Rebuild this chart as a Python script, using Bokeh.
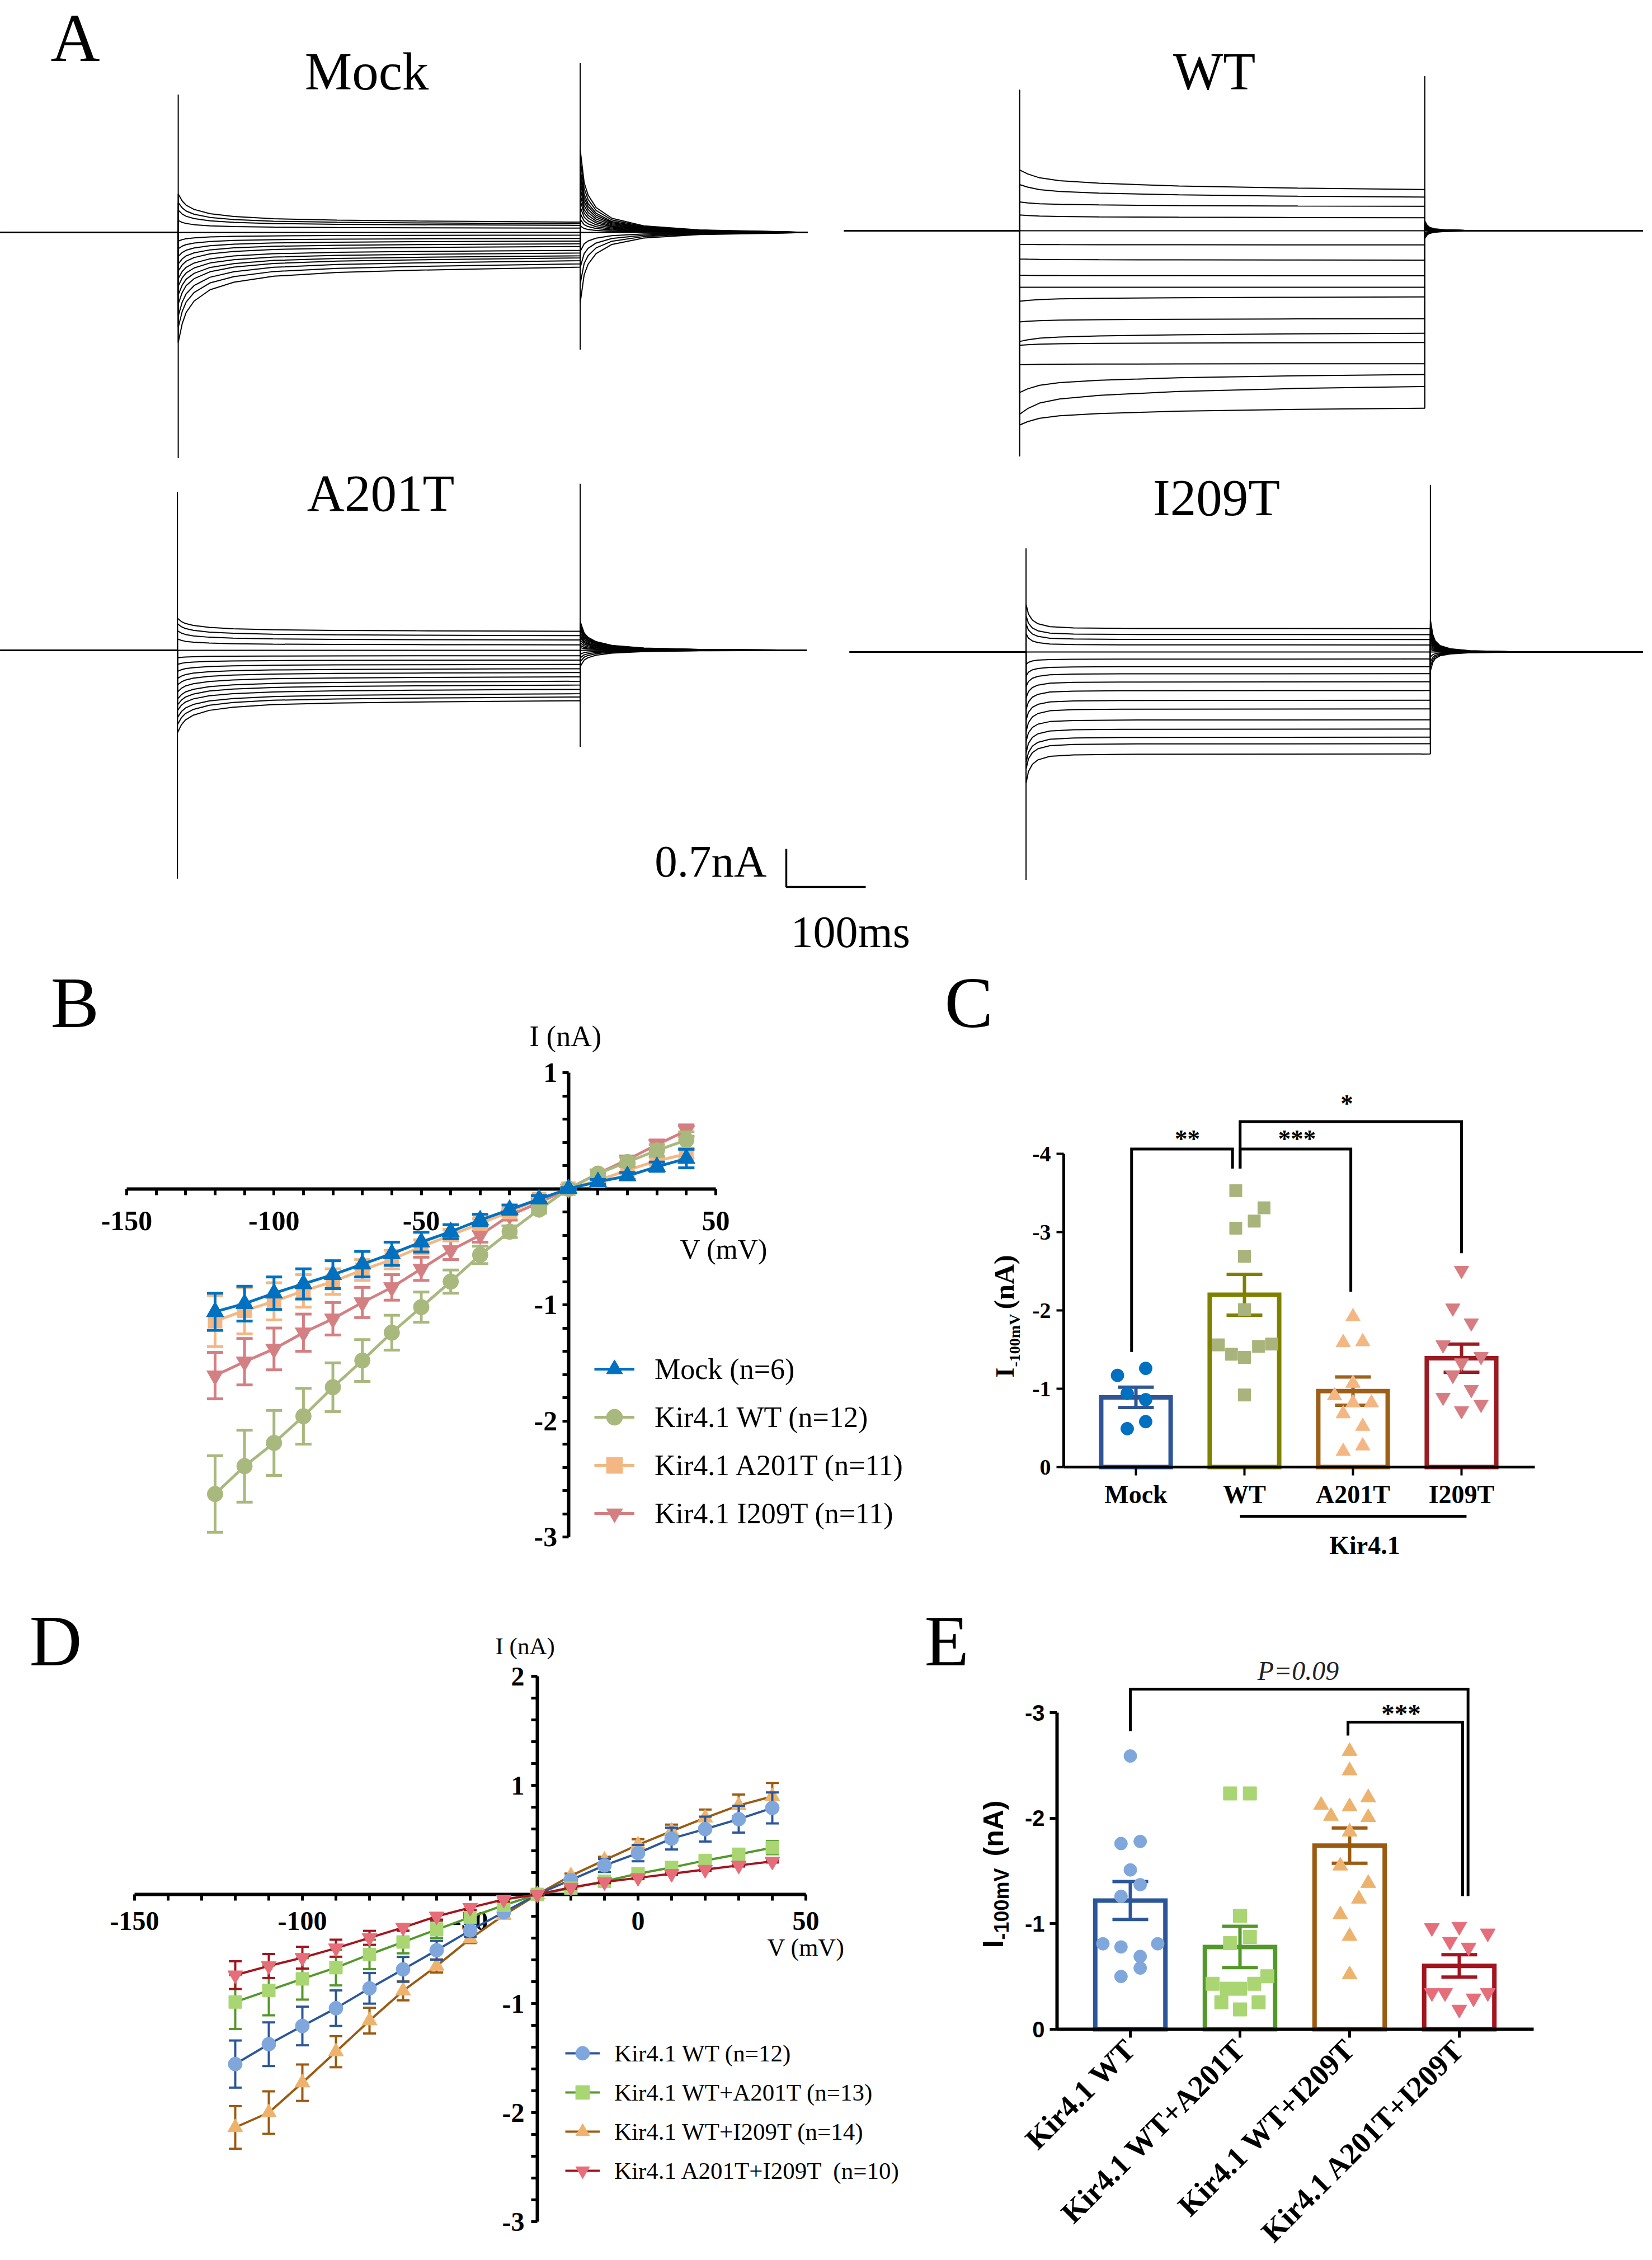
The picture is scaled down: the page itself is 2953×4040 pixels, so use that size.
import math
from bokeh.plotting import figure
from bokeh.models import Range1d, LinearAxis, FixedTicker, Label, Legend, LegendItem
from bokeh.layouts import column, row
from bokeh.embed import file_html
from bokeh.resources import INLINE

SERIF = "Liberation Serif"
SANS = "Liberation Sans"

# ======================= DATA =======================
# ---- Panel A: whole-cell current families (nA), 17 sweeps, +40 mV (first) ... -120 mV (last)
MOCK_START = [0.71, 0.55, 0.41, 0.22, 0.0, -0.16, -0.30, -0.44, -0.58, -0.71, -0.85, -0.99, -1.15, -1.32, -1.54, -1.75, -2.03]
MOCK_END = [0.19, 0.16, 0.13, 0.08, 0.0, -0.05, -0.11, -0.16, -0.21, -0.26, -0.33, -0.38, -0.43, -0.47, -0.52, -0.58, -0.64]
MOCK_TAIL = [-1.30, -0.95, -0.65, -0.35, 0.0, 0.12, 0.24, 0.35, 0.47, 0.59, 0.70, 0.82, 0.94, 1.06, 1.18, 1.35, 1.53]

WT_START = [1.12, 0.85, 0.53, 0.29, 0.0, -0.25, -0.52, -0.82, -1.04, -1.30, -1.68, -2.04, -2.11, -2.47, -2.98, -3.38, -3.58]
WT_END = [0.76, 0.62, 0.45, 0.24, 0.0, -0.26, -0.54, -0.83, -1.04, -1.22, -1.62, -1.89, -2.06, -2.45, -2.65, -2.87, -3.27]
WT_TAIL = [-0.14, -0.10, -0.07, -0.035, 0.0, 0.025, 0.05, 0.06, 0.07, 0.08, 0.09, 0.10, 0.12, 0.13, 0.14, 0.15, 0.18]

A201T_START = [0.59, 0.49, 0.36, 0.21, 0.0, -0.14, -0.26, -0.39, -0.52, -0.64, -0.77, -0.90, -1.01, -1.11, -1.24, -1.37, -1.52]
A201T_END = [0.35, 0.27, 0.19, 0.10, 0.0, -0.10, -0.18, -0.26, -0.34, -0.41, -0.49, -0.57, -0.64, -0.72, -0.80, -0.86, -0.93]
A201T_TAIL = [-0.30, -0.21, -0.14, -0.07, 0.0, 0.05, 0.09, 0.14, 0.19, 0.24, 0.28, 0.33, 0.38, 0.42, 0.47, 0.49, 0.53]

I209T_START = [0.88, 0.67, 0.52, 0.34, 0.0, -0.23, -0.44, -0.64, -0.85, -1.06, -1.26, -1.47, -1.65, -1.86, -2.04, -2.16, -2.42]
I209T_END = [0.43, 0.32, 0.23, 0.13, 0.0, -0.13, -0.27, -0.40, -0.55, -0.71, -0.89, -1.05, -1.25, -1.42, -1.57, -1.69, -1.88]
I209T_TAIL = [-0.35, -0.26, -0.18, -0.09, 0.0, 0.05, 0.09, 0.14, 0.19, 0.24, 0.28, 0.33, 0.38, 0.42, 0.47, 0.52, 0.59]

# recording start, step on, step off, recording end (ms)
MOCK_T = (0, 224, 730, 1016)
WT_T = (20, 241, 751, 1037)
A201T_T = (0, 223, 730, 1015)
I209T_T = (27, 249, 758, 1037)
# capacitive spikes (nA): on top, on bottom, off top, off bottom
MOCK_SPIKE = (2.54, -4.16, 3.12, -2.16)
WT_SPIKE = (2.60, -4.16, 2.85, -3.27)
A201T_SPIKE = (2.92, -4.21, 3.07, -1.78)
I209T_SPIKE = (1.91, -4.20, 3.08, -1.88)
# relaxation / tail time courses read from the sweeps (ms, fraction remaining)
RELAX_SLOW = ([0, 5, 10, 20, 40, 70, 120, 200, 300, 400], [1, 0.75, 0.6, 0.45, 0.3, 0.2, 0.12, 0.07, 0.04, 0.02])
RELAX_WT = ([0, 10, 25, 50, 100, 200, 350], [1, 0.8, 0.6, 0.45, 0.32, 0.18, 0.07])
RELAX_FAST = ([0, 3, 8, 15, 30, 60, 120], [1, 0.6, 0.35, 0.2, 0.08, 0.03, 0.01])
TAIL_SLOW = ([0, 5, 10, 20, 40, 80, 150, 250], [1, 0.6, 0.45, 0.3, 0.17, 0.08, 0.03, 0.01])
TAIL_FAST = ([0, 3, 6, 12, 25, 50, 100], [1, 0.55, 0.35, 0.2, 0.1, 0.04, 0.01])
SCALE_NA = 0.7
SCALE_MS = 100

# ---- Panel B: I-V (nA), mean and SEM
VOLT = [-120, -110, -100, -90, -80, -70, -60, -50, -40, -30, -20, -10, 0, 10, 20, 30, 40]
B_MOCK = [-1.06, -0.99, -0.90, -0.82, -0.74, -0.65, -0.56, -0.46, -0.37, -0.27, -0.18, -0.09, 0.0, 0.06, 0.11, 0.19, 0.26]
B_MOCK_SEM = [0.16, 0.15, 0.14, 0.13, 0.12, 0.11, 0.10, 0.085, 0.06, 0.05, 0.04, 0.03, 0.01, 0.02, 0.03, 0.04, 0.08]
B_WT = [-2.63, -2.39, -2.19, -1.96, -1.71, -1.48, -1.24, -1.02, -0.80, -0.57, -0.37, -0.18, 0.0, 0.13, 0.23, 0.33, 0.42]
B_WT_SEM = [0.33, 0.31, 0.28, 0.24, 0.21, 0.18, 0.15, 0.13, 0.10, 0.075, 0.05, 0.03, 0.01, 0.03, 0.04, 0.05, 0.07]
B_A201T = [-1.14, -1.05, -0.97, -0.88, -0.80, -0.70, -0.61, -0.50, -0.40, -0.30, -0.20, -0.09, 0.0, 0.07, 0.16, 0.24, 0.30]
B_A201T_SEM = [0.22, 0.20, 0.16, 0.14, 0.11, 0.09, 0.08, 0.06, 0.05, 0.04, 0.03, 0.02, 0.01, 0.02, 0.03, 0.03, 0.04]
B_I209T = [-1.61, -1.49, -1.38, -1.24, -1.12, -0.98, -0.85, -0.69, -0.53, -0.40, -0.23, -0.12, 0.0, 0.13, 0.25, 0.38, 0.50]
B_I209T_SEM = [0.20, 0.20, 0.18, 0.16, 0.14, 0.13, 0.11, 0.10, 0.08, 0.06, 0.04, 0.03, 0.01, 0.03, 0.03, 0.04, 0.05]
B_LABELS = ["Mock (n=6)", "Kir4.1 WT (n=12)", "Kir4.1 A201T (n=11)", "Kir4.1 I209T (n=11)"]

# ---- Panel C: I at -100 mV (nA)
C_GROUPS = ["Mock", "WT", "A201T", "I209T"]
C_MEAN = [-0.89, -2.20, -0.97, -1.39]
C_SEM = [0.13, 0.26, 0.18, 0.18]
C_MOCK = [-1.17, -1.26, -0.94, -0.86, -0.58, -0.49]
C_MOCK_JIT = [-0.17, 0.09, -0.08, 0.09, 0.09, -0.08]
C_WT = [-3.53, -3.31, -3.14, -3.05, -2.69, -2.01, -1.56, -1.44, -1.40, -1.54, -1.57, -0.92]
C_WT_JIT = [-0.08, 0.18, 0.09, -0.08, 0.0, 0.0, -0.24, -0.12, 0.0, 0.13, 0.25, 0.0]
C_A201T = [-1.92, -1.59, -1.60, -1.07, -0.91, -0.82, -0.82, -0.68, -0.52, -0.20, -0.27]
C_A201T_JIT = [0.0, -0.09, 0.09, 0.0, -0.17, 0.0, 0.17, -0.09, 0.09, -0.09, 0.09]
C_I209T = [-2.51, -2.03, -1.84, -1.56, -1.41, -1.33, -1.17, -0.99, -0.89, -0.80, -0.72]
C_I209T_JIT = [0.0, -0.08, 0.09, -0.17, 0.18, 0.0, -0.08, 0.09, -0.17, 0.18, 0.0]

# ---- Panel D: I-V (nA), mean and SEM
D_WT = [-1.555, -1.373, -1.206, -1.043, -0.861, -0.687, -0.512, -0.330, -0.163, 0.0, 0.133, 0.266, 0.379, 0.512, 0.599, 0.690, 0.793]
D_WT_SEM = [0.216, 0.20, 0.177, 0.163, 0.14, 0.114, 0.087, 0.06, 0.03, 0.01, 0.03, 0.06, 0.075, 0.10, 0.114, 0.123, 0.142]
D_WTA = [-0.986, -0.880, -0.774, -0.671, -0.550, -0.436, -0.322, -0.209, -0.099, 0.0, 0.057, 0.121, 0.190, 0.247, 0.311, 0.368, 0.429]
D_WTA_SEM = [0.247, 0.228, 0.19, 0.163, 0.135, 0.104, 0.076, 0.05, 0.03, 0.01, 0.02, 0.02, 0.03, 0.03, 0.04, 0.05, 0.06]
D_WTI = [-2.136, -2.0, -1.726, -1.442, -1.157, -0.884, -0.656, -0.406, -0.19, 0.0, 0.171, 0.315, 0.455, 0.58, 0.702, 0.816, 0.899]
D_WTI_SEM = [0.195, 0.195, 0.167, 0.142, 0.118, 0.087, 0.06, 0.04, 0.02, 0.01, 0.02, 0.03, 0.05, 0.06, 0.076, 0.10, 0.123]
D_AI = [-0.74, -0.656, -0.580, -0.493, -0.398, -0.303, -0.201, -0.121, -0.046, 0.0, 0.064, 0.114, 0.152, 0.19, 0.228, 0.266, 0.303]
D_AI_SEM = [0.127, 0.11, 0.10, 0.078, 0.064, 0.03, 0.03, 0.02, 0.02, 0.01, 0.01, 0.01, 0.01, 0.01, 0.01, 0.01, 0.01]
D_LABELS = ["Kir4.1 WT (n=12)", "Kir4.1 WT+A201T (n=13)", "Kir4.1 WT+I209T (n=14)", "Kir4.1 A201T+I209T  (n=10)"]

# ---- Panel E: I at -100 mV (nA)
E_GROUPS = ["Kir4.1 WT", "Kir4.1 WT+A201T", "Kir4.1 WT+I209T", "Kir4.1 A201T+I209T"]
E_MEAN = [-1.22, -0.78, -1.74, -0.60]
E_SEM = [0.18, 0.195, 0.167, 0.106]
E_WT = [-2.59, -1.76, -1.78, -1.51, -1.37, -1.26, -0.81, -0.78, -0.81, -0.69, -0.58, -0.50]
E_WT_JIT = [0.0, -0.085, 0.09, 0.0, 0.09, -0.085, -0.25, -0.085, 0.25, 0.09, 0.09, -0.085]
E_WTA = [-2.235, -2.235, -1.075, -0.875, -0.816, -0.431, -0.384, -0.384, -0.431, -0.502, -0.255, -0.188, -0.255]
E_WTA_JIT = [-0.09, 0.09, 0.0, 0.09, -0.09, -0.25, -0.12, 0.0, 0.13, 0.25, -0.17, 0.0, 0.17]
E_WTI = [-2.635, -2.451, -2.196, -2.125, -2.11, -2.02, -2.008, -1.871, -1.549, -1.384, -1.235, -1.086, -0.882, -0.518]
E_WTI_JIT = [0.0, 0.0, 0.17, -0.26, 0.0, -0.17, 0.17, 0.0, -0.085, 0.17, 0.085, -0.085, 0.0, 0.0]
E_AI = [-0.961, -0.973, -0.91, -0.831, -0.776, -0.345, -0.345, -0.345, -0.294, -0.188]
E_AI_JIT = [-0.25, 0.0, 0.26, -0.085, 0.085, -0.25, -0.13, 0.26, 0.13, 0.0]

# ======================= HELPERS =======================
PX_MS, PX_NA = 1.42, 97.0


class Geo:
    def __init__(s, left, top, w, h, xr, yr):
        s.left, s.top, s.w, s.h, s.xr, s.yr = left, top, w, h, xr, yr

    def X(s, px):
        return s.xr[0] + (px - s.left) / s.w * (s.xr[1] - s.xr[0])

    def Y(s, py):
        return s.yr[1] - (py - s.top) / s.h * (s.yr[1] - s.yr[0])


def make_fig(g):
    p = figure(width=g.w, height=g.h, x_range=Range1d(*g.xr), y_range=Range1d(*g.yr),
               output_backend="svg", toolbar_location=None, x_axis_type=None, y_axis_type=None,
               min_border=0)
    p.outline_line_color = None
    p.background_fill_color = "white"
    p.border_fill_color = "white"
    return p


def txt(p, g, px, py, s, size, font=SERIF, style="normal", align="left", angle=0.0, color="black"):
    # (px, py) is the glyph baseline point; Bokeh anchors the bottom of the text box (descent)
    d = (0.216 if font == SERIF else 0.212) * size
    if angle:
        x, y = g.X(px + d), g.Y(py)
    else:
        x, y = g.X(px), g.Y(py + d)
    p.add_layout(Label(x=x, y=y, text=s, text_font=font, text_font_size=f"{size}px",
                       text_font_style=style, text_align=align, text_baseline="bottom",
                       angle=angle, text_color=color))


def axis(p, side, loc, bounds, ticks, minor, labels, font, size, style, standoff,
         lw=6, tick=11, orientation="horizontal", level=None):
    ax = LinearAxis(fixed_location=loc, bounds=bounds,
                    ticker=FixedTicker(ticks=ticks, minor_ticks=minor),
                    major_label_overrides=dict(zip(ticks, labels)),
                    axis_line_width=lw, axis_line_color="black",
                    major_tick_line_width=lw - 1, minor_tick_line_width=lw - 1,
                    major_tick_out=tick, major_tick_in=0, minor_tick_out=tick, minor_tick_in=0,
                    major_label_text_font=font, major_label_text_font_size=f"{size}px",
                    major_label_text_font_style=style, major_label_text_color="black",
                    major_label_standoff=standoff, major_label_orientation=orientation)
    if not minor:
        ax.minor_tick_line_color = None
    if level:
        ax.level = level
    p.add_layout(ax, side)


def sweep(times, start, end, tail, relax, tailtpl, ox, oy):
    r0, ton, toff, r1 = times
    xs, ys = [r0, ton], [0.0, 0.0]
    for dt, f in zip(*relax):
        xs.append(ton + dt)
        ys.append(end + (start - end) * f)
    xs.append(toff)
    ys.append(end)
    for dt, f in zip(*tailtpl):
        xs.append(toff + dt)
        ys.append(tail * f)
    xs.append(r1)
    ys.append(0.0)
    return [ox + x for x in xs], [oy + y for y in ys]


def iv_series(p, xs, ys, sem, lcol, fcol, marker, size, lw, cap):
    lo = [y - s for y, s in zip(ys, sem)]
    hi = [y + s for y, s in zip(ys, sem)]
    p.segment(x0=xs, y0=lo, x1=xs, y1=hi, line_color=lcol, line_width=lw)
    p.scatter(x=xs, y=lo, marker="dash", size=cap, line_color=lcol, line_width=lw)
    p.scatter(x=xs, y=hi, marker="dash", size=cap, line_color=lcol, line_width=lw)
    r1 = p.line(xs, ys, line_color=lcol, line_width=lw)
    r2 = p.scatter(xs, ys, marker=marker, size=size, fill_color=fcol, line_color=fcol)
    return [r1, r2]


def bar_panel(p, means, sems, groups, bar_cols, pt_cols, markers, sizes, bar_w, cap):
    xs = list(range(len(means)))
    p.vbar(x=xs, top=means, bottom=0, width=bar_w, fill_color="white", line_color=bar_cols,
           line_width=8, line_join="miter")
    lo = [m - s for m, s in zip(means, sems)]
    hi = [m + s for m, s in zip(means, sems)]
    p.segment(x0=xs, y0=lo, x1=xs, y1=hi, line_color=bar_cols, line_width=6)
    p.scatter(x=xs, y=lo, marker="dash", size=cap, line_color=bar_cols, line_width=6)
    p.scatter(x=xs, y=hi, marker="dash", size=cap, line_color=bar_cols, line_width=6)
    for i, (vals, jit) in enumerate(groups):
        p.scatter(x=[i + j for j in jit], y=vals, marker=markers[i], size=sizes[i],
                  fill_color=pt_cols[i], line_color=pt_cols[i])


def bracket(p, xs, ys, lw=5):
    p.line(xs, ys, line_color="black", line_width=lw, line_join="miter")


# ======================= PANEL A =======================
A_H = 1715
gA = Geo(0, 0, 2937, A_H, (0, 2937 / PX_MS), (-A_H / PX_NA, 0))
pA = make_fig(gA)
families = [
    (MOCK_T, MOCK_START, MOCK_END, MOCK_TAIL, MOCK_SPIKE, RELAX_SLOW, TAIL_SLOW, (0, 415)),
    (WT_T, WT_START, WT_END, WT_TAIL, WT_SPIKE, RELAX_WT, TAIL_FAST, (1480, 412)),
    (A201T_T, A201T_START, A201T_END, A201T_TAIL, A201T_SPIKE, RELAX_SLOW, TAIL_SLOW, (0, 1162)),
    (I209T_T, I209T_START, I209T_END, I209T_TAIL, I209T_SPIKE, RELAX_FAST, TAIL_FAST, (1480, 1165)),
]
for times, st, en, tl, sp, rel, tt, (opx, opy) in families:
    ox, oy = gA.X(opx), gA.Y(opy)
    XS, YS = [], []
    for s_, e_, t_ in zip(st, en, tl):
        xs, ys = sweep(times, s_, e_, t_, rel, tt, ox, oy)
        XS.append(xs)
        YS.append(ys)
    pA.multi_line(XS, YS, line_color="black", line_width=2)
    pA.segment(x0=[ox + times[1], ox + times[2]], y0=[oy + sp[1], oy + sp[3]],
               x1=[ox + times[1], ox + times[2]], y1=[oy + sp[0], oy + sp[2]],
               line_color="black", line_width=2)

sbx, sby = gA.X(1405), gA.Y(1585)
pA.line([sbx, sbx, sbx + SCALE_MS], [sby + SCALE_NA, sby, sby], line_color="black", line_width=3.5)
txt(pA, gA, 1370, 1567, "0.7nA", 81, align="right")
txt(pA, gA, 1413, 1692, "100ms", 80)
txt(pA, gA, 90, 108, "A", 122)
txt(pA, gA, 655, 160, "Mock", 95, align="center")
txt(pA, gA, 2170, 160, "WT", 95, align="center")
txt(pA, gA, 680, 912, "A201T", 93, align="center")
txt(pA, gA, 2174, 920, "I209T", 93, align="center")

# ======================= PANEL B =======================
R_TOP, R_H = A_H, 2840 - A_H
gB = Geo(0, R_TOP, 1650, R_H, (-150 - 226 / 5.265, -150 + (1650 - 226) / 5.265),
         ((2124.5 - 2840) / 207.5, (2124.5 - R_TOP) / 207.5))
pB = make_fig(gB)
tens = [v for v in range(-140, 50, 10) if v not in (-100, -50)]
fifths = [round(-3 + 0.2 * k, 1) for k in range(1, 20) if k % 5]
axis(pB, "below", 0, (-150, 50), [-150, -100, -50, 50], tens, ["-150", "-100", "-50", "50"],
     SERIF, 50, "bold", 30, level="underlay")
axis(pB, "left", 0, (-3, 1), [1, -1, -2, -3], fifths, ["1", "-1", "-2", "-3"],
     SERIF, 50, "bold", 9, level="underlay")
B_SERIES = [
    (B_MOCK, B_MOCK_SEM, "#0070C0", "triangle", 31),
    (B_WT, B_WT_SEM, "#A9B87D", "circle", 28),
    (B_A201T, B_A201T_SEM, "#F4B783", "square", 25),
    (B_I209T, B_I209T_SEM, "#D47F82", "inverted_triangle", 30),
]
rendB = [None] * 4
for i in [3, 2, 1, 0]:
    ys, sem, col, mk, sz = B_SERIES[i]
    rendB[i] = iv_series(pB, VOLT, ys, sem, col, col, mk, sz, 5, 29)
legB = Legend(items=[LegendItem(label=B_LABELS[i], renderers=rendB[i]) for i in range(4)],
              location=(1062, 99), orientation="vertical", padding=0, margin=0, spacing=14,
              glyph_width=72, glyph_height=72, label_standoff=36, label_height=40,
              label_text_font=SERIF, label_text_font_size="52px", label_text_color="black",
              border_line_color=None, background_fill_alpha=0)
pB.add_layout(legB)
txt(pB, gB, 90, 1835, "B", 130)
txt(pB, gB, 946, 1869, "I (nA)", 52)
txt(pB, gB, 1215, 2250, "V (mV)", 50)

# ======================= PANEL C =======================
gC = Geo(1650, R_TOP, 1287, R_H, ((1650 - 2030) / 194, (2937 - 2030) / 194),
         ((2840 - 2622) / 140, (R_TOP - 2622) / 140))
pC = make_fig(gC)
axis(pC, "below", 0, (-0.665, 3.675), [0, 1, 2, 3], [], C_GROUPS, SERIF, 46, "bold", 8, lw=5, tick=15)
axis(pC, "left", -0.665, (-4, 0), [0, -1, -2, -3, -4], [], ["0", "-1", "-2", "-3", "-4"],
     SERIF, 40, "bold", 10, lw=5, tick=13)
bar_panel(pC, C_MEAN, C_SEM,
          [(C_MOCK, C_MOCK_JIT), (C_WT, C_WT_JIT), (C_A201T, C_A201T_JIT), (C_I209T, C_I209T_JIT)],
          ["#2F5597", "#808000", "#9E5F17", "#9B1B22"],
          ["#0070C0", "#A9B47C", "#F4B783", "#D77D82"],
          ["circle", "square", "triangle", "inverted_triangle"], [23, 22, 26, 26], 0.64, 64)
bracket(pC, [-0.04, -0.04, 0.89, 0.89], [-1.47, -4.06, -4.06, -3.81])
bracket(pC, [0.96, 0.96, 1.98, 1.98], [-3.81, -4.06, -4.06, -2.24])
bracket(pC, [0.96, 0.96, 3.0, 3.0], [-3.81, -4.41, -4.41, -2.73])
txt(pC, gC, 2122, 2050, "**", 45, style="bold", align="center")
txt(pC, gC, 2318, 2050, "***", 45, style="bold", align="center")
txt(pC, gC, 2407, 1987, "*", 45, style="bold", align="center")
pC.line([0.959, 3.046], [0.629, 0.629], line_color="black", line_width=5)
txt(pC, gC, 2439, 2778, "Kir4.1", 46, style="bold", align="center")
txt(pC, gC, 1688, 1835, "C", 130)
txt(pC, gC, 1812, 2462, "I", 46, style="bold", angle=math.pi / 2)
txt(pC, gC, 1822, 2443, "-100mV", 28, style="bold", angle=math.pi / 2)
txt(pC, gC, 1812, 2340, "(nA)", 50, style="bold", angle=math.pi / 2)

# ======================= PANEL D =======================
gD = Geo(0, 2840, 1650, 1184, (-190.0, 85.0), ((3386 - 4024) / 195, (3386 - 2840) / 195))
pD = make_fig(gD)
tensD = [v for v in range(-140, 50, 10) if v not in (-100, -50, 0)]
fifthsD = [round(-3 + 0.2 * k, 1) for k in range(1, 25) if k % 5]
axis(pD, "below", 0, (-150, 50), [-150, -100, -50, 0, 50], tensD, ["-150", "-100", "-50", "0", "50"],
     SERIF, 48, "bold", 20, level="underlay")
axis(pD, "left", -30, (-3, 2), [2, 1, -1, -2, -3], fifthsD, ["2", "1", "-1", "-2", "-3"],
     SERIF, 48, "bold", 12, level="underlay")
D_SERIES = [
    (D_WT, D_WT_SEM, "#2B579A", "#7FA7DC", "circle", 25),
    (D_WTA, D_WTA_SEM, "#53982A", "#A9D672", "square", 23),
    (D_WTI, D_WTI_SEM, "#9C5A10", "#EDB36E", "triangle", 27),
    (D_AI, D_AI_SEM, "#A3141E", "#E56E7A", "inverted_triangle", 27),
]
rendD = [None] * 4
for i in [2, 0, 1, 3]:
    ys, sem, lc, fc, mk, sz = D_SERIES[i]
    rendD[i] = iv_series(pD, VOLT, ys, sem, lc, fc, mk, sz, 4, 23)
legD = Legend(items=[LegendItem(label=D_LABELS[i], renderers=rendD[i]) for i in range(4)],
              location=(1010, 113), orientation="vertical", padding=0, margin=0, spacing=8,
              glyph_width=62, glyph_height=62, label_standoff=26, label_height=40,
              label_text_font=SERIF, label_text_font_size="43px", label_text_color="black",
              border_line_color=None, background_fill_alpha=0)
pD.add_layout(legD)
txt(pD, gD, 52, 2976, "D", 130)
txt(pD, gD, 885, 2956, "I (nA)", 43)
txt(pD, gD, 1371, 3496, "V (mV)", 44)

# ======================= PANEL E =======================
gE = Geo(1650, 2840, 1287, 1184, ((1650 - 2020) / 196, (2937 - 2020) / 196),
         ((4024 - 3627) / 188.6, (2840 - 3627) / 188.6))
pE = make_fig(gE)
axis(pE, "below", 0, (-0.668, 3.679), [0, 1, 2, 3], [], E_GROUPS, SERIF, 54, "bold", 12,
     lw=6, tick=15, orientation=math.pi / 4)
axis(pE, "left", -0.668, (-3, 0), [0, -1, -2, -3], [], ["0", "-1", "-2", "-3"],
     SANS, 40, "bold", 9, lw=6, tick=13)
bar_panel(pE, E_MEAN, E_SEM,
          [(E_WT, E_WT_JIT), (E_WTA, E_WTA_JIT), (E_WTI, E_WTI_JIT), (E_AI, E_AI_JIT)],
          ["#2B579A", "#53982A", "#9C5A10", "#A3141E"],
          ["#7FA7DC", "#A9D672", "#EDB36E", "#E56E7A"],
          ["circle", "square", "triangle", "inverted_triangle"], [23, 24, 27, 27], 0.64, 64)
bracket(pE, [0.0, 0.0, 3.08, 3.08], [-2.826, -3.224, -3.224, -1.262])
bracket(pE, [1.985, 1.985, 3.03, 3.03], [-2.784, -2.911, -2.911, -1.262])
txt(pE, gE, 2320, 3002, "P=0.09", 48, style="italic", align="center", color="#222222")
txt(pE, gE, 2504, 3078, "***", 47, style="bold", align="center")
txt(pE, gE, 1652, 2976, "E", 130)
txt(pE, gE, 1792, 3482, "I", 52, font=SANS, style="bold", angle=math.pi / 2)
txt(pE, gE, 1803, 3467, "-100mV", 36, font=SANS, style="bold", angle=math.pi / 2)
txt(pE, gE, 1793, 3318, "(nA)", 50, font=SANS, style="bold", angle=math.pi / 2)

layout = column(pA, row(pB, pC), row(pD, pE))
open("out.html", "w").write(file_html(layout, INLINE))
